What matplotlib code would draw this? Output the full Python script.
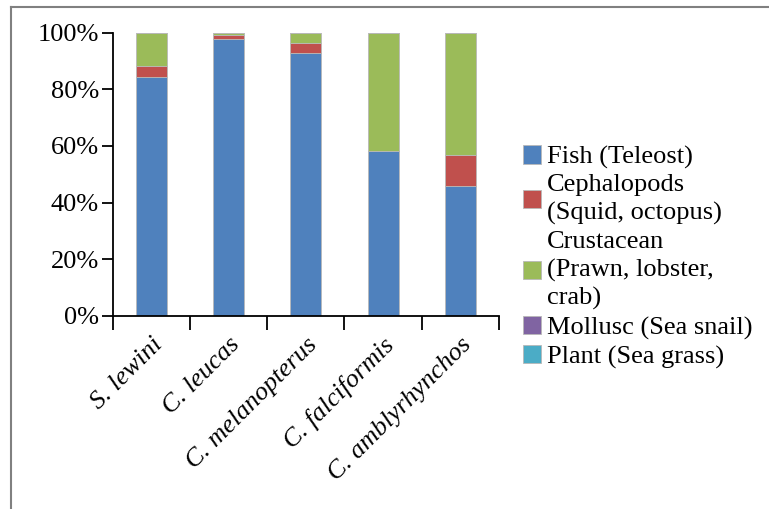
import matplotlib
matplotlib.use("Agg")
import matplotlib.pyplot as plt
from matplotlib.lines import Line2D
import numpy as np

species = ["S. lewini", "C. leucas", "C. melanopterus", "C. falciformis", "C. amblyrhynchos"]
fish = [84.5, 97.7, 92.8, 58.1, 46.0]
cephalopods = [3.8, 1.4, 3.6, 0.0, 10.8]
crustacean = [11.7, 0.9, 3.6, 41.9, 43.2]
mollusc = [0.0, 0.0, 0.0, 0.0, 0.0]
plant = [0.0, 0.0, 0.0, 0.0, 0.0]
series_labels = ["Fish (Teleost)", "Cephalopods\n(Squid, octopus)",
                 "Crustacean\n(Prawn, lobster,\ncrab)", "Mollusc (Sea snail)",
                 "Plant (Sea grass)"]
colors = ["#4F81BD", "#C0504D", "#9BBB59", "#8064A2", "#4BACC6"]
yticks = [0, 20, 40, 60, 80, 100]
ytick_labels = ["0%", "20%", "40%", "60%", "80%", "100%"]

plt.rcParams["font.family"] = ["Liberation Serif", "DejaVu Serif"]

fig = plt.figure(figsize=(7.69, 5.09), dpi=100)
ax = fig.add_axes([112.7 / 769, 1 - 315.7 / 509, (499 - 112.7) / 769, (315.7 - 32.7) / 509])

x = np.arange(len(species))
bottom = np.zeros(len(species))
handles = []
for vals, lab, col in zip([fish, cephalopods, crustacean, mollusc, plant], series_labels, colors):
    b = ax.bar(x, vals, 0.4, bottom=bottom, color=col, edgecolor="#b8b8b8", linewidth=0.6, label=lab)
    handles.append(b)
    bottom += np.array(vals)

ax.set_xlim(-0.5, len(species) - 0.5)
ax.set_ylim(0, 100)
ax.set_yticks(yticks)
ax.set_yticklabels(ytick_labels, fontsize=19)
ax.set_xticks(np.arange(len(species) + 1) - 0.5, minor=False)
ax.set_xticklabels([])
ax.set_xticks(x, minor=True)
ax.set_xticklabels(species, minor=True, fontsize=19, style="italic",
                   rotation=45, ha="right", rotation_mode="anchor")
ax.tick_params(axis="x", which="minor", length=0, pad=13)
ax.tick_params(axis="x", which="major", length=10, width=1.3, direction="out")
ax.tick_params(axis="y", length=8, width=1.3, direction="out", pad=2)
for s in ["top", "right"]:
    ax.spines[s].set_visible(False)
for s in ["left", "bottom"]:
    ax.spines[s].set_linewidth(1.3)

leg = fig.legend(handles=handles, labels=series_labels, loc="center left",
                 bbox_to_anchor=(523 / 769, 1 - 257 / 509), frameon=False,
                 fontsize=19, handlelength=0.7, handleheight=0.7,
                 handletextpad=0.2, labelspacing=0.2, borderpad=0, borderaxespad=0)
for t in leg.get_texts():
    t.set_linespacing(1.33)

fig.add_artist(Line2D([11 / 769, 1.0], [1 - 6.5 / 509, 1 - 6.5 / 509], color="#808080", lw=1.5,
                      transform=fig.transFigure))
fig.add_artist(Line2D([11 / 769, 11 / 769], [0, 1 - 6.5 / 509], color="#808080", lw=1.5,
                      transform=fig.transFigure))

fig.savefig("out.png", dpi=100)
